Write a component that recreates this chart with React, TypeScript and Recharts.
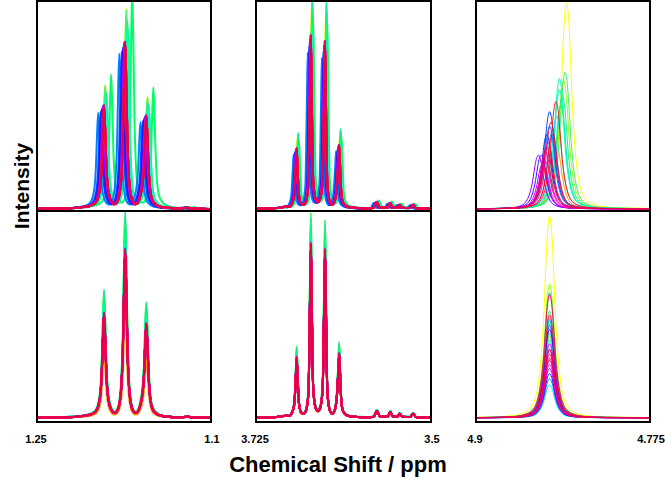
import React from "react";
import { LineChart, Line, XAxis, YAxis } from "recharts";

// one colour per spectrum, drawn in this order (crimson ones end up on top)
const traceColors = [
  "#ffff00", "#ff9900", "#99ff00", "#44ee77", "#22e68c", "#00ff66",
  "#00ff99", "#00ffcc", "#00e5ff", "#00b2ff", "#0080ff", "#004cff",
  "#1a1aff", "#4c00ff", "#8000ff", "#b200ff", "#e500ff", "#ff00cc",
  "#ff0099", "#ff0066", "#ff1a1a", "#ff0040", "#f0105a", "#e6004c",
];

// ---- 1.25 - 1.1 ppm (CH3 triplet), profile of the red trace, peak = 1
const leftTicks = [1.25, 1.1];
const leftPpm = [
  1.25, 1.23, 1.215, 1.208, 1.203, 1.199, 1.197, 1.195, 1.194, 1.193, 1.192, 1.191, 1.19, 1.189,
  1.187, 1.185, 1.183, 1.181, 1.179, 1.177, 1.176, 1.175, 1.174, 1.173, 1.172, 1.171, 1.169,
  1.167, 1.165, 1.163, 1.161, 1.159, 1.158, 1.157, 1.156, 1.155, 1.154, 1.153, 1.151, 1.148,
  1.144, 1.138, 1.13, 1.124, 1.121, 1.118, 1.11, 1.1,
];
const leftInt = [
  0.002, 0.004, 0.008, 0.014, 0.022, 0.04, 0.07, 0.15, 0.26, 0.47, 0.62, 0.47, 0.26, 0.15,
  0.07, 0.04, 0.03, 0.04, 0.08, 0.22, 0.4, 0.75, 1.0, 0.75, 0.4, 0.22, 0.08,
  0.04, 0.03, 0.04, 0.08, 0.16, 0.25, 0.43, 0.56, 0.43, 0.25, 0.14, 0.06, 0.03,
  0.015, 0.008, 0.005, 0.005, 0.01, 0.004, 0.002, 0.001,
];
const leftTopShift = [
  -0.001, 0, -0.001, -0.001, -0.002, -0.006, -0.002, -0.001, 0.001, 0.002, 0.005, 0.003,
  0.002, 0.001, 0.001, 0.0005, 0.0005, 0, 0, 0, 0, 0, 0, 0,
];
const leftTopScale = [
  1.2, 0.9, 1.15, 1.19, 1.12, 1.3, 1.1, 1.05, 1.0, 0.97, 0.93, 0.94,
  0.96, 0.98, 0.99, 1.0, 1.0, 1.0, 1.0, 1.0, 0.99, 1.0, 1.0, 1.0,
];
const leftBottomScale = [
  0.85, 0.65, 1.12, 1.2, 1.23, 1.15, 1.08, 1.03, 1.0, 0.99, 1.01, 1.0,
  0.98, 1.0, 1.01, 0.99, 1.0, 1.0, 1.0, 1.0, 0.98, 1.0, 0.99, 1.0,
];

// ---- 3.725 - 3.5 ppm (CH2 quartet)
const midTicks = [3.725, 3.5];
const midPpm = [
  3.725, 3.7, 3.69, 3.685, 3.682, 3.678, 3.675, 3.673, 3.672, 3.671, 3.669, 3.666, 3.663,
  3.66, 3.657, 3.655, 3.654, 3.653, 3.651, 3.648, 3.645, 3.642, 3.639, 3.637, 3.636, 3.635,
  3.633, 3.63, 3.627, 3.624, 3.621, 3.619, 3.618, 3.617, 3.615, 3.612, 3.606, 3.595, 3.58,
  3.574, 3.57, 3.566, 3.556, 3.553, 3.55, 3.544, 3.541, 3.538, 3.528, 3.524, 3.52, 3.51, 3.5,
];
const midInt = [
  0.003, 0.005, 0.01, 0.015, 0.012, 0.03, 0.08, 0.25, 0.35, 0.25, 0.08, 0.03, 0.025,
  0.045, 0.15, 0.7, 1.0, 0.7, 0.17, 0.06, 0.04, 0.06, 0.17, 0.68, 0.966, 0.68,
  0.15, 0.045, 0.025, 0.04, 0.12, 0.28, 0.37, 0.27, 0.08, 0.03, 0.012, 0.006, 0.004,
  0.008, 0.04, 0.008, 0.01, 0.035, 0.01, 0.008, 0.025, 0.008, 0.006, 0.025, 0.005, 0.003, 0.002,
];
const midTopShift = [
  -0.001, 0, -0.0015, -0.002, -0.002, -0.003, -0.001, -0.001, 0.001, 0.002, 0.004, 0.002,
  0.0015, 0.001, 0.001, 0.0005, 0.0005, 0, 0, 0, 0, 0, 0, 0,
];
const midTopScale = [
  1.15, 0.93, 1.22, 1.18, 1.25, 1.1, 1.05, 1.0, 0.97, 0.92, 0.9, 0.94,
  0.96, 0.97, 0.98, 1.0, 1.0, 1.0, 1.0, 1.0, 0.98, 0.99, 1.0, 1.0,
];
const midBottomScale = [
  0.92, 0.9, 1.12, 1.18, 1.15, 1.1, 1.05, 1.02, 1.0, 0.99, 1.0, 1.01,
  0.98, 1.0, 0.99, 1.0, 1.0, 1.01, 1.0, 1.0, 0.98, 1.0, 0.99, 1.0,
];

// ---- 4.9 - 4.775 ppm (OH), single broad line centred at 4.847
const rightTicks = [4.9, 4.775];
const rightCentre = 4.847;
const rightPpm = [
  4.9, 4.887, 4.872, 4.864, 4.86, 4.857, 4.855, 4.853, 4.852, 4.851, 4.85, 4.849, 4.848, 4.847,
  4.846, 4.845, 4.844, 4.843, 4.842, 4.841, 4.839, 4.837, 4.834, 4.83, 4.822, 4.807, 4.775,
];
const rightInt = [
  0.003, 0.005, 0.012, 0.03, 0.055, 0.1, 0.17, 0.3, 0.4, 0.53, 0.7, 0.86, 0.96, 1.0,
  0.96, 0.86, 0.7, 0.53, 0.4, 0.3, 0.17, 0.1, 0.055, 0.03, 0.012, 0.005, 0.002,
];
const rightTopPeak = [
  4.835, 4.842, 4.837, 4.836, 4.838, 4.839, 4.84, 4.84, 4.842, 4.845, 4.847, 4.847,
  4.849, 4.853, 4.855, 4.852, 4.851, 4.85, 4.85, 4.848, 4.8425, 4.845, 4.846, 4.849,
];
const rightTopScale = [
  1.0, 0.3, 0.62, 0.66, 0.55, 0.5, 0.58, 0.63, 0.45, 0.38, 0.4, 0.47,
  0.36, 0.26, 0.26, 0.22, 0.2, 0.23, 0.28, 0.32, 0.52, 0.36, 0.42, 0.3,
];
const rightBottomScale = [
  0.98, 0.4, 0.65, 0.52, 0.61, 0.38, 0.47, 0.41, 0.16, 0.48, 0.19, 0.45,
  0.215, 0.43, 0.24, 0.36, 0.26, 0.335, 0.28, 0.29, 0.5, 0.31, 0.6, 0.33,
];

const tickStyle = { fontSize: 11, fontWeight: "bold", fill: "#000", fontFamily: "Liberation Sans, Arial, sans-serif" };

type PanelProps = {
  left: number;
  top: number;
  width: number;
  height: number;
  ppm: number[];
  intensity: number[];
  shifts: number[];
  scales: number[];
  ticks: number[];
  yDomain: [number, number];
  showAxis: boolean;
  strokeWidth: number;
};

function Panel(p: PanelProps) {
  const axisH = p.showAxis ? 30 : 0;
  const w = p.width + 40;
  const lo = Math.min(p.ticks[0], p.ticks[1]);
  const hi = Math.max(p.ticks[0], p.ticks[1]);
  return (
    <div style={{ position: "absolute", left: p.left - 20, top: p.top, width: w, height: p.height + axisH }}>
      <LineChart width={w} height={p.height + axisH} margin={{ top: 0, right: 20, bottom: 0, left: 20 }}>
        <XAxis
          type="number"
          dataKey="x"
          domain={[lo, hi]}
          reversed
          allowDataOverflow
          ticks={p.ticks}
          interval={0}
          hide={!p.showAxis}
          height={axisH}
          axisLine={false}
          tickLine={false}
          tickSize={6}
          tickMargin={8}
          tick={tickStyle}
        />
        <YAxis type="number" domain={p.yDomain} hide allowDataOverflow />
        {traceColors.map((c, i) => (
          <Line
            key={i}
            data={p.ppm.map((x, j) => ({ x: x + p.shifts[i], y: p.intensity[j] * p.scales[i] }))}
            dataKey="y"
            type="monotone"
            stroke={c}
            strokeWidth={p.strokeWidth}
            dot={false}
            isAnimationActive={false}
          />
        ))}
      </LineChart>
    </div>
  );
}

const cols = [
  { left: 36, width: 176 },
  { left: 255, width: 177 },
  { left: 475, width: 176 },
];

const zeros = traceColors.map(() => 0);

export default function App() {
  const frame = (left: number, top: number, width: number, height: number) => (
    <div
      style={{
        position: "absolute",
        left,
        top,
        width,
        height,
        border: "2px solid #000",
        boxSizing: "border-box",
        pointerEvents: "none",
      }}
    />
  );
  return (
    <div style={{ position: "absolute", left: 0, top: 0, width: 665, height: 480, background: "#fff", overflow: "hidden", fontFamily: "Liberation Sans, Arial, sans-serif" }}>
      {/* top row */}
      <Panel left={cols[0].left} top={2} width={cols[0].width} height={208} ppm={leftPpm} intensity={leftInt}
        shifts={leftTopShift} scales={leftTopScale} ticks={leftTicks} yDomain={[-0.005, 1.238]} showAxis={false} strokeWidth={2} />
      <Panel left={cols[1].left} top={2} width={cols[1].width} height={208} ppm={midPpm} intensity={midInt}
        shifts={midTopShift} scales={midTopScale} ticks={midTicks} yDomain={[-0.005, 1.19]} showAxis={false} strokeWidth={2} />
      <Panel left={cols[2].left} top={2} width={cols[2].width} height={208} ppm={rightPpm} intensity={rightInt}
        shifts={rightTopPeak.map((c) => c - rightCentre)} scales={rightTopScale} ticks={rightTicks} yDomain={[-0.005, 1.0]} showAxis={false} strokeWidth={1} />

      {/* bottom row */}
      <Panel left={cols[0].left} top={212} width={cols[0].width} height={209} ppm={leftPpm} intensity={leftInt}
        shifts={zeros} scales={leftBottomScale} ticks={leftTicks} yDomain={[-0.018, 1.226]} showAxis strokeWidth={2} />
      <Panel left={cols[1].left} top={212} width={cols[1].width} height={209} ppm={midPpm} intensity={midInt}
        shifts={zeros} scales={midBottomScale} ticks={midTicks} yDomain={[-0.017, 1.184]} showAxis strokeWidth={2} />
      <Panel left={cols[2].left} top={212} width={cols[2].width} height={209} ppm={rightPpm} intensity={rightInt}
        shifts={zeros} scales={rightBottomScale} ticks={rightTicks} yDomain={[-0.015, 1.0]} showAxis strokeWidth={1} />

      {cols.map((c, i) => (
        <React.Fragment key={i}>
          {frame(c.left, 0, c.width, 212)}
          {frame(c.left, 210, c.width, 213)}
        </React.Fragment>
      ))}

      <div style={{ position: "absolute", left: 228, width: 220, top: 452, textAlign: "center", fontSize: 22, fontWeight: "bold", whiteSpace: "nowrap", color: "#000" }}>
        Chemical Shift / ppm
      </div>
      <div style={{ position: "absolute", left: 22 - 60, top: 186 - 13, width: 120, height: 26, lineHeight: "26px", textAlign: "center", fontSize: 21, fontWeight: "bold", transform: "rotate(-90deg)", color: "#000" }}>
        Intensity
      </div>
    </div>
  );
}
